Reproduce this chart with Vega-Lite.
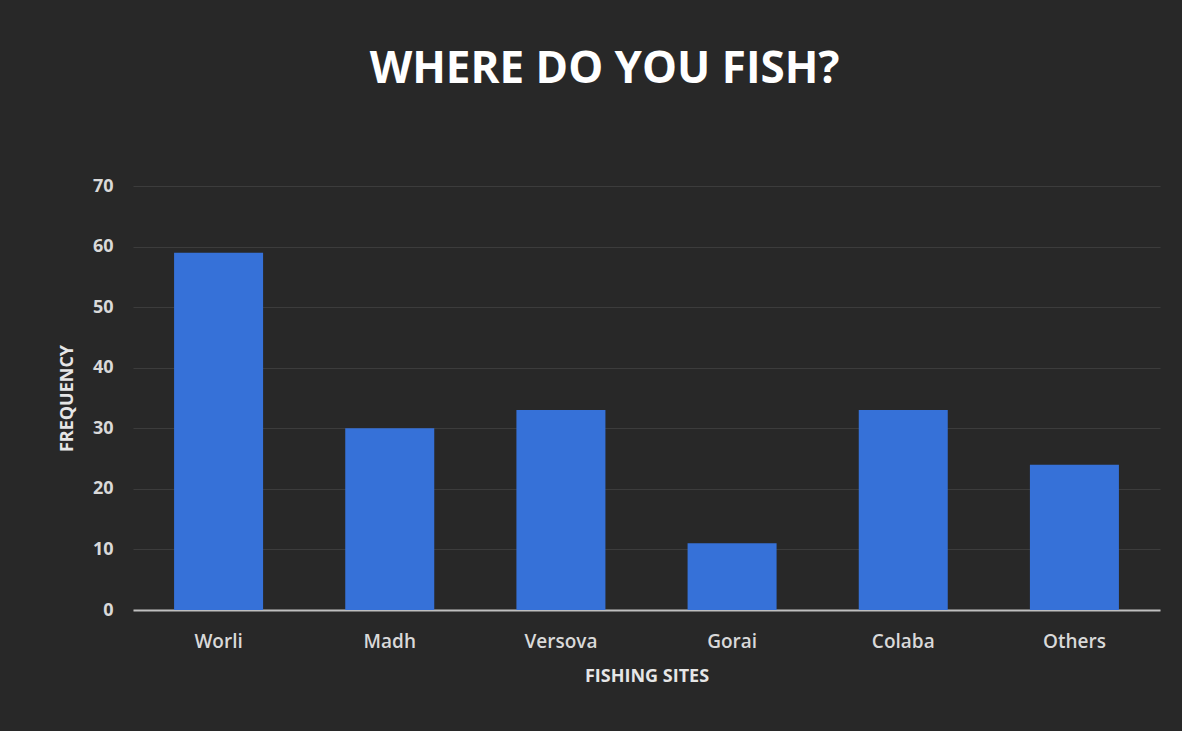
{
  "$schema": "https://vega.github.io/schema/vega-lite/v6.json",
  "autosize": "none",
  "width": 1027,
  "height": 424,
  "padding": {"left": 133, "top": 186, "right": 22, "bottom": 121},
  "background": "#282828",
  "title": {
    "text": "WHERE DO YOU FISH?",
    "font": "Open Sans",
    "fontSize": 44,
    "fontWeight": "bold",
    "color": "#ffffff",
    "anchor": "middle",
    "dx": -42,
    "offset": 85
  },
  "data": {
    "values": [
      {"site": "Worli", "frequency": 59},
      {"site": "Madh", "frequency": 30},
      {"site": "Versova", "frequency": 33},
      {"site": "Gorai", "frequency": 11},
      {"site": "Colaba", "frequency": 33},
      {"site": "Others", "frequency": 24}
    ]
  },
  "mark": {"type": "bar", "color": "#3671d8"},
  "encoding": {
    "x": {
      "field": "site",
      "type": "nominal",
      "sort": null,
      "scale": {"paddingInner": 0.48, "paddingOuter": 0.24},
      "axis": {
        "title": "FISHING SITES",
        "titleFont": "Open Sans",
        "titleFontSize": 18,
        "titleFontWeight": "bold",
        "titleColor": "#e6e6e6",
        "titlePadding": 16,
        "labelAngle": 0,
        "labelFont": "Open Sans",
        "labelFontSize": 19,
        "labelFontWeight": 600,
        "labelColor": "#d9d9d9",
        "labelPadding": 22,
        "ticks": false,
        "domainColor": "#bfbfbf",
        "domainWidth": 2
      }
    },
    "y": {
      "field": "frequency",
      "type": "quantitative",
      "scale": {"domain": [0, 70]},
      "axis": {
        "title": "FREQUENCY",
        "titleFont": "Open Sans",
        "titleFontSize": 18,
        "titleFontWeight": "bold",
        "titleColor": "#e6e6e6",
        "titlePadding": 16,
        "values": [0, 10, 20, 30, 40, 50, 60, 70],
        "labelFont": "Open Sans",
        "labelFontSize": 18,
        "labelFontWeight": "bold",
        "labelColor": "#d9d9d9",
        "labelPadding": 20,
        "ticks": false,
        "domain": false,
        "grid": true,
        "gridColor": "#3c3c3c",
        "gridWidth": 1
      }
    }
  },
  "config": {"view": {"stroke": null}}
}
